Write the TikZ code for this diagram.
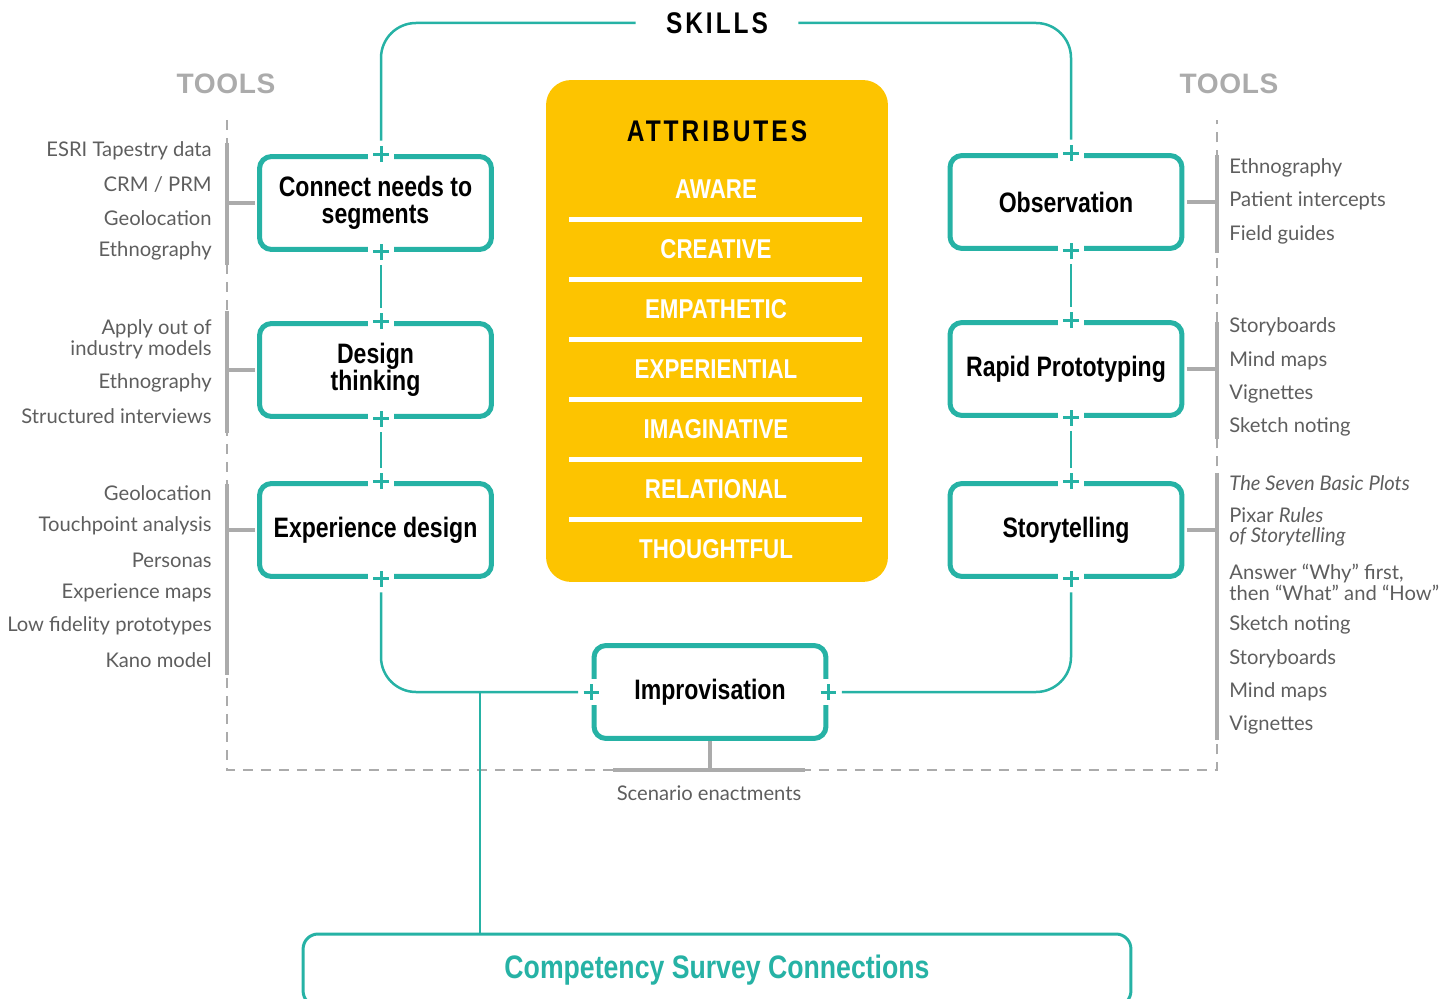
\documentclass[tikz,border=0pt]{standalone}
\usepackage{fontspec}
\setmainfont{Lato}
\newfontfamily\condfont[FakeStretch=0.82]{Liberation Sans}
\newfontfamily\headfont[FakeStretch=0.82,LetterSpace=10]{Liberation Sans}
\newfontfamily\toolfont[LetterSpace=2]{Liberation Sans}
\usetikzlibrary{calc}

\definecolor{skillteal}{HTML}{26B2A5}
\definecolor{attryellow}{HTML}{FDC400}
\definecolor{toolgray}{HTML}{ABABAB}
\definecolor{listgray}{HTML}{5E5E5E}

\begin{document}
\begin{tikzpicture}[x=0.02cm, y=-0.02cm,
    skill/.style={draw=skillteal, line width=0.1cm, rounded corners=0.24cm,
        minimum width=4.64cm, minimum height=1.86cm, align=center,
        font=\condfont\bfseries\fontsize{16}{15.5}\selectfont},
    plusmark/.style={fill=white, minimum size=0.52cm, inner sep=0pt,
        path picture={\draw[skillteal, line width=0.06cm]
            ($(path picture bounding box.north)!0.2!(path picture bounding box.south)$) --
            ($(path picture bounding box.north)!0.8!(path picture bounding box.south)$)
            ($(path picture bounding box.west)!0.2!(path picture bounding box.east)$) --
            ($(path picture bounding box.west)!0.8!(path picture bounding box.east)$);}},
    link/.style={draw=skillteal, line width=0.05cm},
    bracket/.style={draw=toolgray, line width=0.08cm},
    frame/.style={draw=toolgray, line width=0.03cm, dash pattern=on 0.2cm off 0.16cm},
    toolhead/.style={text=toolgray, font=\toolfont\bfseries\fontsize{16}{18}\selectfont},
    toolitem/.style={text=listgray, inner sep=0pt, font=\fontsize{11.5}{11.8}\selectfont},
    attr/.style={text=white, font=\condfont\bfseries\fontsize{15.5}{16}\selectfont},
    divider/.style={draw=white, line width=0.1cm}]

    \useasboundingbox (0,0) rectangle (1456,999);
    \clip (0,0) rectangle (1456,999);

    % Dashed band round the tools
    \draw[frame] (227,120) -- (227,770) -- (1217,770) -- (1217,120);
    \coordinate (barL) at (227,0);
    \coordinate (barR) at (1217,0);
    \coordinate (laneL) at (381,0);
    \coordinate (laneR) at (1071,0);

    % Headings
    \node[font=\headfont\bfseries\fontsize{17}{18}\selectfont, minimum width=3.24cm] (skills) at (717,23) {SKILLS};
    \node[toolhead] (toolsL) at (226,84) {TOOLS};
    \node[toolhead] (toolsR) at (1229,84) {TOOLS};

    % Attributes panel
    \node[fill=attryellow, rounded corners=0.5cm, minimum width=6.84cm, minimum height=10.04cm] (attrs) at (717,331) {};
    \node[font=\headfont\bfseries\fontsize{17}{18}\selectfont] (attrhead) at (717,131) {ATTRIBUTES};
    \node[attr] (aware) at (716,189) {AWARE};
    \draw[divider] (569,220) -- (862,220);
    \node[attr] (creative) at (716,249) {CREATIVE};
    \draw[divider] (569,280) -- (862,280);
    \node[attr] (empathetic) at (716,309) {EMPATHETIC};
    \draw[divider] (569,340) -- (862,340);
    \node[attr] (experiential) at (716,369) {EXPERIENTIAL};
    \draw[divider] (569,400) -- (862,400);
    \node[attr] (imaginative) at (716,429) {IMAGINATIVE};
    \draw[divider] (569,460) -- (862,460);
    \node[attr] (relational) at (716,489) {RELATIONAL};
    \draw[divider] (569,520) -- (862,520);
    \node[attr] (thoughtful) at (716,549) {THOUGHTFUL};

    % Skills - left column
    \node[skill] (connect) at (375.5,203) {Connect needs to\\segments};
    \node[skill] (design) at (375.5,370) {Design\\thinking};
    \node[skill] (experience) at (375.5,530) {Experience design};

    % Skills - right column
    \node[skill] (observation) at (1066,202) {Observation};
    \node[skill] (rapid) at (1066,369) {Rapid Prototyping};
    \node[skill] (story) at (1066,530) {Storytelling};

    % Skill - bottom
    \node[skill] (improv) at (710,692) {Improvisation};

    % Plus marks on the boxes
    \node[plusmark] (connect-t) at (connect.north -| laneL) {};
    \node[plusmark] (connect-b) at (connect.south -| laneL) {};
    \node[plusmark] (design-t) at (design.north -| laneL) {};
    \node[plusmark] (design-b) at (design.south -| laneL) {};
    \node[plusmark] (experience-t) at (experience.north -| laneL) {};
    \node[plusmark] (experience-b) at (experience.south -| laneL) {};
    \node[plusmark] (observation-t) at (observation.north -| laneR) {};
    \node[plusmark] (observation-b) at (observation.south -| laneR) {};
    \node[plusmark] (rapid-t) at (rapid.north -| laneR) {};
    \node[plusmark] (rapid-b) at (rapid.south -| laneR) {};
    \node[plusmark] (story-t) at (story.north -| laneR) {};
    \node[plusmark] (story-b) at (story.south -| laneR) {};
    \node[plusmark] (improv-l) at (improv.west) {};
    \node[plusmark] (improv-r) at (improv.east) {};

    % Skill path
    \draw[link, rounded corners=0.7cm] (skills.west) -| (connect-t);
    \draw[link, rounded corners=0.7cm] (skills.east) -| (observation-t);
    \draw[link] (connect-b) -- (design-t);
    \draw[link] (design-b) -- (experience-t);
    \draw[link] (observation-b) -- (rapid-t);
    \draw[link] (rapid-b) -- (story-t);
    \draw[link, rounded corners=0.7cm] (experience-b) |- (improv-l);
    \draw[link, rounded corners=0.7cm] (story-b) |- (improv-r);

    % Competency survey
    \node[draw=skillteal, line width=0.06cm, rounded corners=0.3cm, minimum width=16.56cm, minimum height=1.44cm,
        text=skillteal, font=\condfont\bfseries\fontsize{18.5}{19}\selectfont] (competency) at (717,970) {Competency Survey Connections};
    \coordinate (branch) at (480,693);
    \draw[link] (branch) -- (branch |- competency.north);

    % Tools - Connect needs to segments
    \draw[bracket] (227,143) -- (227,265);
    \draw[bracket, shorten <=0.05cm] (connect.west) -- (connect.west -| barL);
    \node[toolitem, anchor=east] (esri) at (212,151) {ESRI Tapestry data};
    \node[toolitem, anchor=east] (crm) at (212,185) {CRM / PRM};
    \node[toolitem, anchor=east] (geo1) at (212,218) {Geolocation};
    \node[toolitem, anchor=east] (ethno1) at (212,251) {Ethnography};

    % Tools - Design thinking
    \draw[bracket] (227,311) -- (227,433);
    \draw[bracket, shorten <=0.05cm] (design.west) -- (design.west -| barL);
    \node[toolitem, anchor=east, align=right] (apply) at (212,339) {Apply out of\\industry models};
    \node[toolitem, anchor=east] (ethno2) at (212,383) {Ethnography};
    \node[toolitem, anchor=east] (interviews) at (212,416) {Structured interviews};

    % Tools - Experience design
    \draw[bracket] (227,484) -- (227,675);
    \draw[bracket, shorten <=0.05cm] (experience.west) -- (experience.west -| barL);
    \node[toolitem, anchor=east] (geo2) at (212,493) {Geolocation};
    \node[toolitem, anchor=east] (touch) at (212,526) {Touchpoint analysis};
    \node[toolitem, anchor=east] (personas) at (212,560) {Personas};
    \node[toolitem, anchor=east] (expmaps) at (212,593) {Experience maps};
    \node[toolitem, anchor=east] (lowfi) at (212,626) {Low fidelity prototypes};
    \node[toolitem, anchor=east] (kano) at (212,660) {Kano model};

    % Tools - Observation
    \draw[bracket] (1217,155) -- (1217,253);
    \draw[bracket, shorten <=0.05cm] (observation.east) -- (observation.east -| barR);
    \node[toolitem, anchor=west] (ethno3) at (1229,168) {Ethnography};
    \node[toolitem, anchor=west] (intercepts) at (1229,201) {Patient intercepts};
    \node[toolitem, anchor=west] (guides) at (1229,235) {Field guides};

    % Tools - Rapid Prototyping
    \draw[bracket] (1217,322) -- (1217,439);
    \draw[bracket, shorten <=0.05cm] (rapid.east) -- (rapid.east -| barR);
    \node[toolitem, anchor=west] (boards1) at (1229,327) {Storyboards};
    \node[toolitem, anchor=west] (mind1) at (1229,361) {Mind maps};
    \node[toolitem, anchor=west] (vign1) at (1229,394) {Vignettes};
    \node[toolitem, anchor=west] (sketch1) at (1229,427) {Sketch noting};

    % Tools - Storytelling
    \draw[bracket] (1217,473) -- (1217,740);
    \draw[bracket, shorten <=0.05cm] (story.east) -- (story.east -| barR);
    \node[toolitem, anchor=west] (plots) at (1229,483) {\itshape The Seven Basic Plots};
    \node[toolitem, anchor=west, align=left] (pixar) at (1229,527) {Pixar \textit{Rules}\\\textit{of Storytelling}};
    \node[toolitem, anchor=west, align=left] (answer) at (1229,582) {Answer “Why” first,\\then “What” and “How”};
    \node[toolitem, anchor=west] (sketch2) at (1229,625) {Sketch noting};
    \node[toolitem, anchor=west] (boards2) at (1229,659) {Storyboards};
    \node[toolitem, anchor=west] (mind2) at (1229,692) {Mind maps};
    \node[toolitem, anchor=west] (vign2) at (1229,725) {Vignettes};

    % Tools - Improvisation
    \coordinate (scenebar) at (711,770);
    \draw[bracket] (improv.south) -- (improv.south |- scenebar);
    \draw[bracket] (613,770) -- (805,770);
    \node[toolitem] (scenario) at (709,793) {Scenario enactments};

\end{tikzpicture}
\end{document}
